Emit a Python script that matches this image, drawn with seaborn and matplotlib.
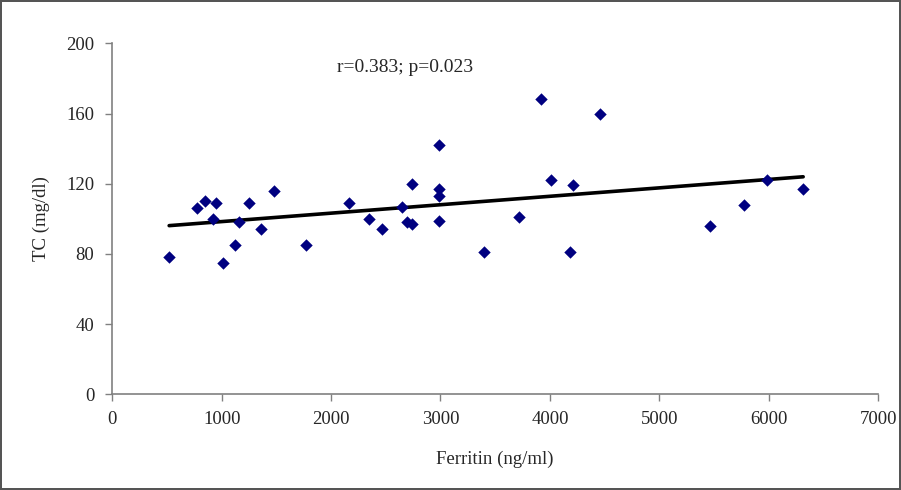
import matplotlib
matplotlib.use("Agg")
import matplotlib.pyplot as plt
import seaborn as sns
import pandas as pd
import numpy as np

# Values
ferritin = [520, 770, 850, 950, 925, 1015, 1120, 1155, 1250, 1360, 1475, 1770,
            2160, 2345, 2465, 2650, 2690, 2740, 2740, 2990, 2990, 2990, 2990,
            3400, 3715, 3920, 4010, 4185, 4210, 4455, 5460, 5770, 5985, 6315]
tc = [78, 106, 110, 109, 100, 75, 85, 98, 109, 94, 116, 85,
      109, 100, 94, 107, 98, 97, 120, 142, 117, 113, 99,
      81, 101, 168, 122, 81, 119, 160, 96, 108, 122, 117]

x_ticks = [0, 1000, 2000, 3000, 4000, 5000, 6000, 7000]
y_ticks = [0, 40, 80, 120, 160, 200]
annotation = "r=0.383; p=0.023"

df = pd.DataFrame({"Ferritin": ferritin, "TC": tc})

sns.set_style("ticks")
plt.rcParams['font.family'] = ['Liberation Serif', 'DejaVu Serif']

fig = plt.figure(figsize=(9.01, 4.90), dpi=100)
fig.patch.set_edgecolor("#555555")
fig.patch.set_linewidth(1.5)
ax = fig.add_axes([0.1246, 0.1953, 0.85, 0.7163])

# Trend line over the data range
sns.regplot(data=df, x="Ferritin", y="TC", ax=ax, scatter=False, ci=None,
            line_kws={"color": "black", "linewidth": 2.6})

# Data points
sns.scatterplot(data=df, x="Ferritin", y="TC", ax=ax, marker="D",
                color="#000080", s=40, linewidth=0, zorder=3)

ax.set_xlim(0, 7000)
ax.set_ylim(0, 200)
ax.set_xticks(x_ticks)
ax.set_yticks(y_ticks)
ax.tick_params(axis="both", labelsize=13.5, length=5, width=1, color="#808080",
               direction="out")
ax.tick_params(axis="x", pad=7)
ax.tick_params(axis="y", pad=8)

for side in ["top", "right"]:
    ax.spines[side].set_visible(False)
for side in ["left", "bottom"]:
    ax.spines[side].set_color("#808080")
    ax.spines[side].set_linewidth(1.2)

ax.set_xlabel("Ferritin (ng/ml)", fontsize=13.5, va="center")
ax.set_ylabel("TC (mg/dl)", fontsize=13.5, va="center")
ax.xaxis.set_label_coords(0.5, -0.185)
ax.yaxis.set_label_coords(-0.092, 0.5)

ax.text(2054, 186, annotation, fontsize=14, ha="left", va="center")

fig.savefig("out.png", dpi=100, edgecolor=fig.get_edgecolor())
